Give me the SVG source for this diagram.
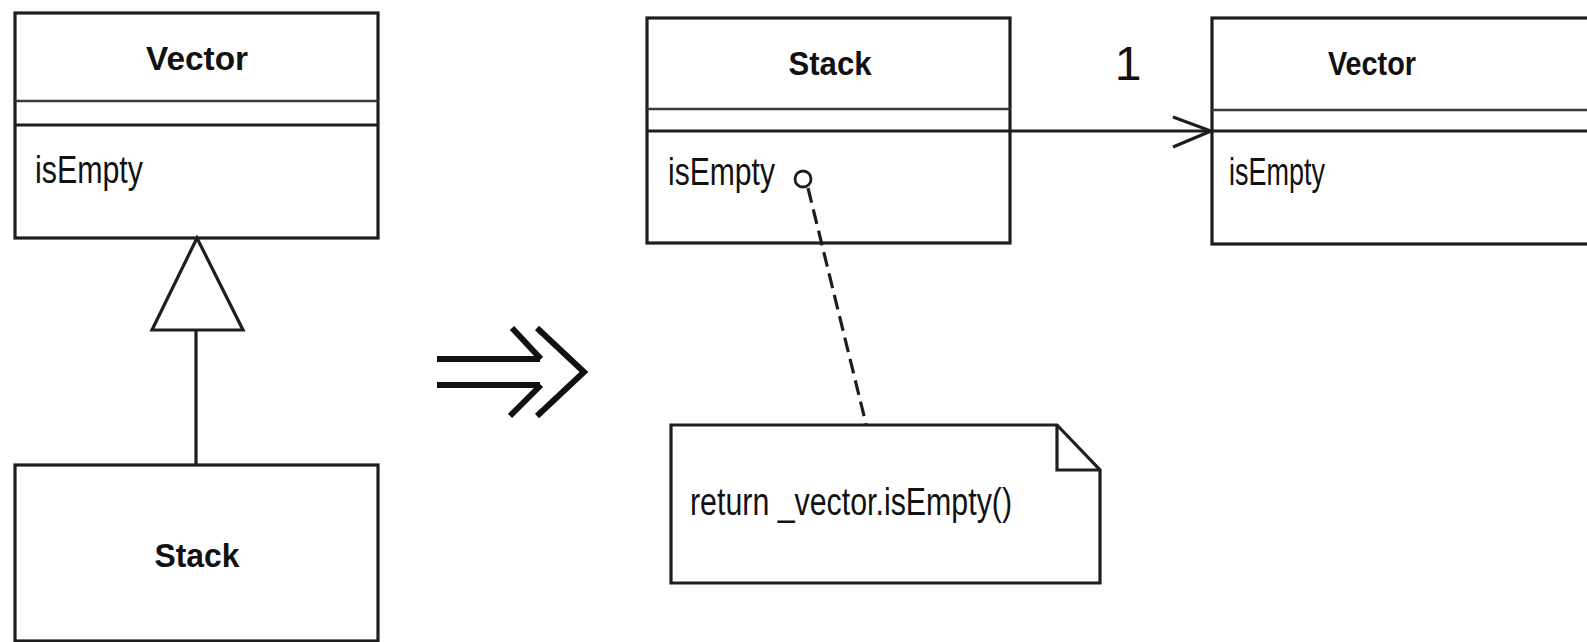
<svg xmlns="http://www.w3.org/2000/svg" width="1587" height="642" viewBox="0 0 1587 642">
  <style>
    .box { fill: #fff; stroke: #1e1e1e; stroke-width: 3.2; }
    .sep { stroke: #1e1e1e; stroke-width: 3.2; fill: none; }
    .sep1 { stroke: #3a3a3a; stroke-width: 2.5; fill: none; }
    .edge { stroke: #1e1e1e; stroke-width: 3.2; fill: none; }
    .title { font-family: "Liberation Sans", Arial, sans-serif; font-weight: bold; font-size: 34px; fill: #111; text-anchor: middle; }
    .op { font-family: "Liberation Sans", Arial, sans-serif; font-size: 38px; fill: #111; }
  </style>
  <rect x="0" y="0" width="1587" height="642" fill="#fff"/>

  <g id="left-vector">
    <rect class="box" x="15" y="13" width="363" height="225"/>
    <line class="sep1" x1="15" y1="101" x2="378" y2="101"/>
    <line class="sep" x1="15" y1="125" x2="378" y2="125"/>
    <text class="title" x="197" y="70" textLength="102" lengthAdjust="spacingAndGlyphs">Vector</text>
    <text class="op" x="35" y="183" textLength="108" lengthAdjust="spacingAndGlyphs">isEmpty</text>
  </g>

  <g id="left-stack">
    <rect class="box" x="15" y="465" width="363" height="176"/>
    <text class="title" x="197" y="567" font-size="37" textLength="85" lengthAdjust="spacingAndGlyphs">Stack</text>
  </g>

  <g id="refactor-arrow">
    <line x1="437" y1="359" x2="540" y2="359" stroke="#111" stroke-width="6"/>
    <line x1="437" y1="385" x2="540" y2="385" stroke="#111" stroke-width="6"/>
    <line x1="512" y1="328" x2="541" y2="359" stroke="#111" stroke-width="6"/>
    <line x1="510" y1="416" x2="541" y2="385" stroke="#111" stroke-width="6"/>
    <polyline points="537,328 584,372 537,416" fill="none" stroke="#111" stroke-width="6"/>
  </g>

  <g id="right-stack">
    <rect class="box" x="647" y="18" width="363" height="225"/>
    <line class="sep1" x1="647" y1="109" x2="1010" y2="109"/>
    <line class="sep" x1="647" y1="131" x2="1010" y2="131"/>
    <text class="title" x="830" y="75" font-size="36" textLength="83" lengthAdjust="spacingAndGlyphs">Stack</text>
    <text class="op" x="668" y="185" textLength="107" lengthAdjust="spacingAndGlyphs">isEmpty</text>
    <circle cx="803" cy="179" r="8" fill="#fff" stroke="#1e1e1e" stroke-width="2.8"/>
  </g>

  <g id="right-vector">
    <rect class="box" x="1212" y="18" width="400" height="226"/>
    <line class="sep1" x1="1212" y1="110" x2="1600" y2="110"/>
    <line class="sep" x1="1212" y1="131" x2="1600" y2="131"/>
    <text class="title" x="1372" y="75" textLength="88" lengthAdjust="spacingAndGlyphs">Vector</text>
    <text class="op" x="1229" y="185" font-size="36" textLength="96" lengthAdjust="spacingAndGlyphs">isEmpty</text>
  </g>

  <g id="note">
    <path class="box" d="M671,425 L1057,425 L1100,470 L1100,583 L671,583 Z"/>
    <polyline class="edge" points="1057,425 1057,470 1100,470"/>
    <text class="op" x="690" y="515" font-size="36" textLength="322" lengthAdjust="spacingAndGlyphs">return _vector.isEmpty()</text>
  </g>

  <g id="connectors">
    <line class="edge" x1="196" y1="330" x2="196" y2="465"/>
    <polygon points="197,238 152,330 243,330" fill="#fff" stroke="#1e1e1e" stroke-width="3.2" stroke-linejoin="miter"/>
    <line class="edge" x1="1010" y1="131" x2="1212" y2="131"/>
    <polyline class="edge" points="1173,117 1211,131 1173,147"/>
    <text x="1128" y="80" font-family="'Liberation Sans', Arial, sans-serif" font-size="48" fill="#111" text-anchor="middle">1</text>
    <line x1="808" y1="188" x2="866" y2="424" stroke="#1e1e1e" stroke-width="3.2" stroke-dasharray="15,7"/>
  </g>
</svg>
